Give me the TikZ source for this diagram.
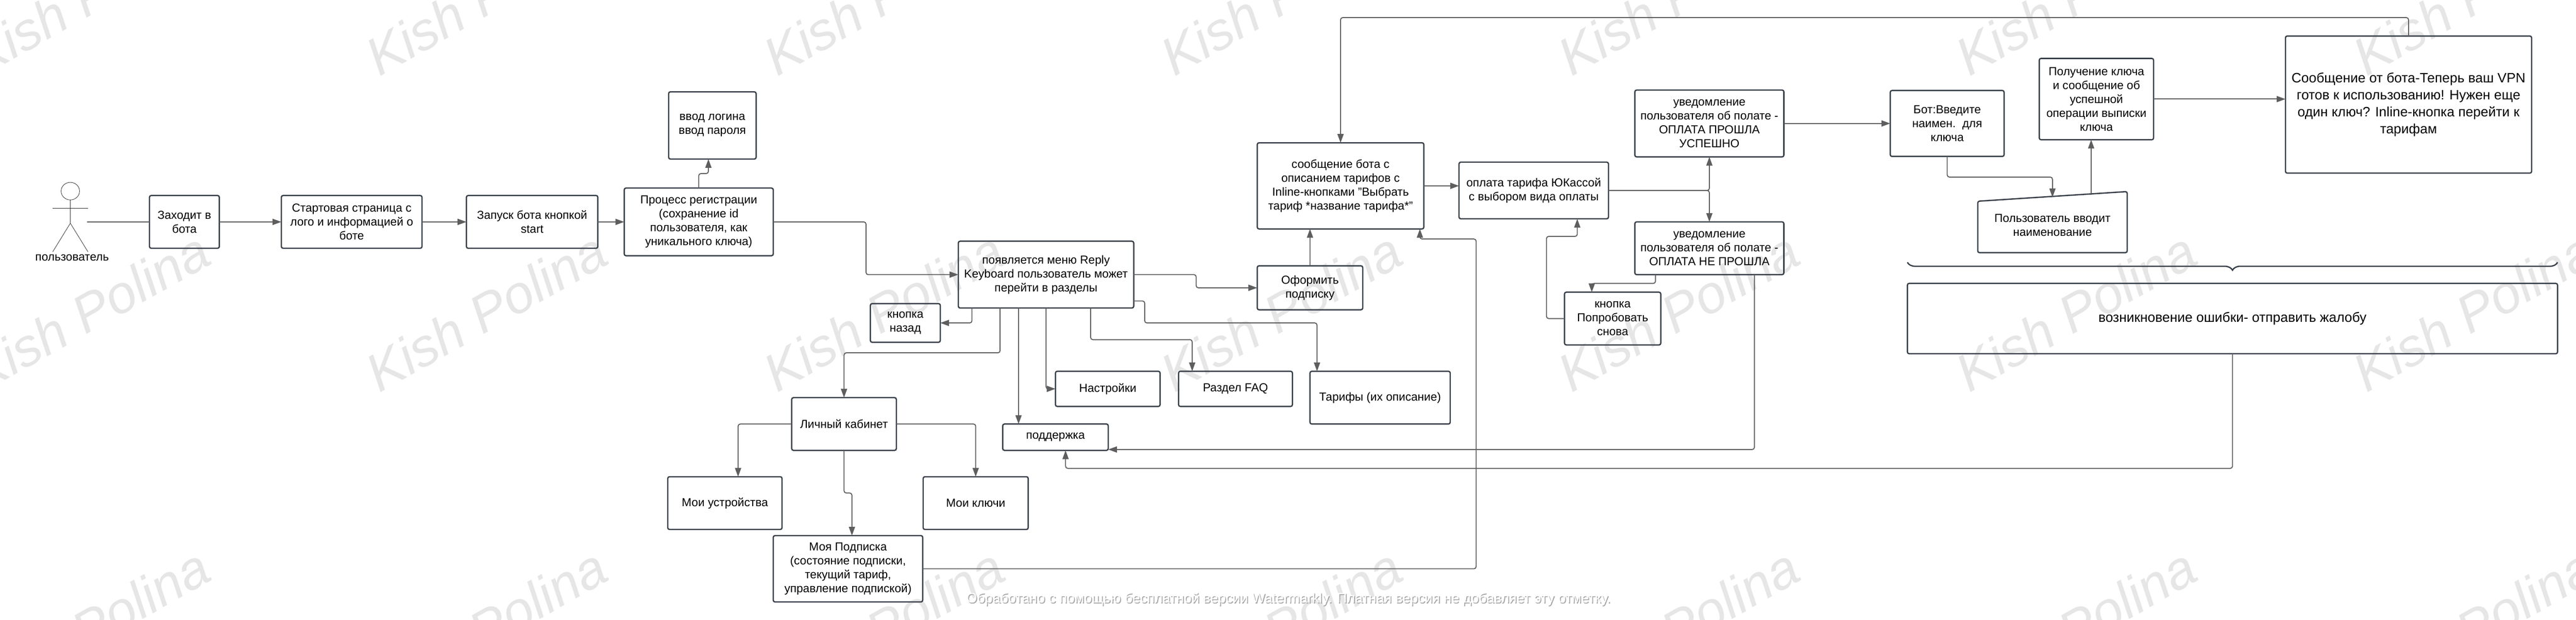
\documentclass[tikz,border=0pt]{standalone}
\usepackage{fontspec}
\setmainfont{Liberation Sans}
\usetikzlibrary{shapes.geometric, arrows.meta, calc, positioning, decorations.pathreplacing}
\definecolor{boxline}{HTML}{3A414A}
\definecolor{linkline}{HTML}{5E5E5E}
\definecolor{stampgray}{HTML}{E6E6E6}
\tikzstyle{block} = [rectangle, rounded corners=0.4mm, line width=0.3mm, inner sep=0pt, outer sep=0pt, align=center, draw=boxline, font=\fontsize{7.55}{9}\selectfont]
\tikzstyle{bigblock} = [block, font=\fontsize{8.8}{10.9}\selectfont]
\tikzstyle{link} = [line width=0.22mm, rounded corners=0.5mm, draw=linkline]
\tikzstyle{arrow} = [link, -{Triangle[length=2mm,width=1.4mm]}, color=linkline]
\tikzstyle{stick} = [line width=0.1mm, draw=black!80]
\tikzstyle{stamp} = [anchor=base west, rotate=29.4, inner sep=0pt, text=stampgray, font=\itshape\fontsize{34.4}{35}\selectfont]
\tikzstyle{note} = [inner sep=0pt, font=\fontsize{8.95}{10}\selectfont]

\begin{document}
\begin{tikzpicture}
		\useasboundingbox (0,0) rectangle (58.6,-14.11);
		% watermark
		\begin{scope}
		\clip (0,0) rectangle (58.6,-14.11);
		\node (StampA1) [stamp] at (-0.41,-1.75) {Kish Polina};
		\node (StampA2) [stamp] at (8.63,-1.75) {Kish Polina};
		\node (StampA3) [stamp] at (17.67,-1.75) {Kish Polina};
		\node (StampA4) [stamp] at (26.71,-1.75) {Kish Polina};
		\node (StampA5) [stamp] at (35.75,-1.75) {Kish Polina};
		\node (StampA6) [stamp] at (44.79,-1.75) {Kish Polina};
		\node (StampA7) [stamp] at (53.83,-1.75) {Kish Polina};
		\node (StampB1) [stamp] at (-0.41,-8.95) {Kish Polina};
		\node (StampB2) [stamp] at (8.63,-8.95) {Kish Polina};
		\node (StampB3) [stamp] at (17.67,-8.95) {Kish Polina};
		\node (StampB4) [stamp] at (26.71,-8.95) {Kish Polina};
		\node (StampB5) [stamp] at (35.75,-8.95) {Kish Polina};
		\node (StampB6) [stamp] at (44.79,-8.95) {Kish Polina};
		\node (StampB7) [stamp] at (53.83,-8.95) {Kish Polina};
		\node (StampC1) [stamp] at (-0.41,-16.15) {Kish Polina};
		\node (StampC2) [stamp] at (8.63,-16.15) {Kish Polina};
		\node (StampC3) [stamp] at (17.67,-16.15) {Kish Polina};
		\node (StampC4) [stamp] at (26.71,-16.15) {Kish Polina};
		\node (StampC5) [stamp] at (35.75,-16.15) {Kish Polina};
		\node (StampC6) [stamp] at (44.79,-16.15) {Kish Polina};
		\node (StampC7) [stamp] at (53.83,-16.15) {Kish Polina};
		\end{scope}
		
		% actor
		\draw [stick] (1.6,-4.35) ellipse (0.21 and 0.2);
		\draw [stick] (1.6,-4.55) -- (1.6,-5.08) -- (1.2,-5.73);
		\draw [stick] (1.6,-5.08) -- (2.0,-5.73);
		\draw [stick] (1.2,-4.74) -- (2.0,-4.74);
		\node (User) [font=\fontsize{7.55}{9}\selectfont, inner sep=0pt] at (1.64,-5.87) {пользователь};
		\coordinate (UserRight) at (1.98,-5.05);
		
		\node (Enter) [block, minimum width = 15.9mm, minimum height = 12mm] at (4.195,-5.05) {Заходит в\\бота};
		\node (Start) [block, minimum width = 32mm, minimum height = 12mm, right = 14.1mm of Enter] {Стартовая страница с\\лого и информацией о\\боте};
		\node (Launch) [block, minimum width = 29.9mm, minimum height = 12mm, right = 10.1mm of Start] {Запуск бота кнопкой\\start};
		\node (Register) [block, minimum width = 33.9mm, minimum height = 15.4mm, right = 6mm of Launch] {Процесс регистрации\\(сохранение id\\пользователя, как\\уникального ключа)};
		\node (Login) [block, minimum width = 19.9mm, minimum height = 15.3mm, above = 6.6mm of Register, xshift = 3.1mm] {ввод логина\\ввод пароля};
		\node (Menu) [block, minimum width = 39.9mm, minimum height = 15.2mm, right = 42.1mm of Register, yshift = -12mm] {появляется меню Reply\\Keyboard пользователь может\\перейти в разделы};
		\node (Back) [block, minimum width = 15.9mm, minimum height = 8.8mm] at (20.595,-7.35) {кнопка\\назад};
		\node (Settings) [block, minimum width = 23.8mm, minimum height = 8mm] at (25.2,-8.85) {Настройки};
		\node (Faq) [block, minimum width = 25.9mm, minimum height = 8mm, right = 4.2mm of Settings] {Раздел FAQ};
		\node (Tariffs) [block, minimum width = 31.9mm, minimum height = 12mm] at (31.395,-9.05) {Тарифы (их описание)};
		\node (Support) [block, minimum width = 24mm, minimum height = 6mm] at (24.01,-9.95) {поддержка};
		\node (Cabinet) [block, minimum width = 23.8mm, minimum height = 12mm] at (19.2,-9.65) {Личный кабинет};
		\node (Devices) [block, minimum width = 26mm, minimum height = 12mm] at (16.49,-11.45) {Мои устройства};
		\node (Keys) [block, minimum width = 23.9mm, minimum height = 12mm] at (22.195,-11.45) {Мои ключи};
		\node (MySub) [block, minimum width = 34mm, minimum height = 15.1mm, below = 19.4mm of Cabinet, xshift = 0.9mm] {Моя Подписка\\(состояние подписки,\\текущий тариф,\\управление подпиской)};
		\node (Subscribe) [block, minimum width = 24mm, minimum height = 10mm] at (29.8,-6.55) {Оформить\\подписку};
		\node (Offer) [block, minimum width = 37.9mm, minimum height = 19.6mm] at (30.495,-4.23) {сообщение бота с\\описанием тарифов с\\Inline-кнопками "Выбрать\\тариф *название тарифа*"};
		\node (Pay) [block, minimum width = 34mm, minimum height = 12.9mm, right = 8mm of Offer, yshift = -1.05mm] {оплата тарифа ЮКассой\\с выбором вида оплаты};
		\node (Success) [block, minimum width = 33.9mm, minimum height = 15.2mm] at (38.885,-2.81) {уведомление\\пользователя об полате -\\ОПЛАТА ПРОШЛА\\УСПЕШНО};
		\node (Fail) [block, minimum width = 33.9mm, minimum height = 12mm, below = 14.8mm of Success] {уведомление\\пользователя об полате -\\ОПЛАТА НЕ ПРОШЛА};
		\node (Retry) [block, minimum width = 21.9mm, minimum height = 12mm] at (36.685,-7.25) {кнопка\\Попробовать\\снова};
		\node (Ask) [block, minimum width = 25.9mm, minimum height = 15mm, right = 24.2mm of Success] {Бот:Введите\\наимен.\ \ для\\ключа};
		\node (GetKey) [block, minimum width = 26mm, minimum height = 18.5mm] at (47.69,-2.255) {Получение ключа\\и сообщение об\\успешной\\операции выписки\\ключа};
		\node (Ready) [bigblock, minimum width = 56mm, minimum height = 31.2mm] at (54.79,-2.38) {Сообщение от бота-Теперь ваш VPN\\готов к использованию! Нужен еще\\один ключ? Inline-кнопка перейти к\\тарифам};
		\node (Input) [block, draw=none, minimum width = 34mm, minimum height = 12.6mm] at (46.69,-5.12) {Пользователь вводит\\наименование};
		\draw [line width=0.3mm, draw=boxline, rounded corners=0.4mm] ($(Input.north west)+(0,-0.09)$) -- ($(Input.north east)+(0,0.13)$) -- (Input.south east) -- (Input.south west) -- cycle;
		\node (Complain) [bigblock, minimum width = 147.9mm, minimum height = 16mm] at (50.785,-7.25) {возникновение ошибки- отправить жалобу};
		\coordinate (BraceLeft) at (43.39,-5.97);
		\coordinate (BraceRight) at (58.18,-5.97);
		\draw [line width=0.3mm, draw=boxline, decorate, decoration={brace, mirror, amplitude=1.8mm}] (BraceLeft) -- (BraceRight);
		
		\draw [link] (UserRight) -- (Enter);
		\draw [arrow] (Enter) -- (Start);
		\draw [arrow] (Start) -- (Launch);
		\draw [arrow] (Launch) -- (Register);
		\draw [arrow] (Register.north) -- ++(0,0.33) -| ([xshift=-0.9mm]Login.south);
		\draw [arrow] (Register.east) -- ++(2.11,0) |- (Menu.west);
		\draw [arrow] ([xshift=-16.85mm]Menu.south) |- (Back.east);
		\draw [arrow] ([xshift=-10.45mm]Menu.south) -- ++(0,-1.02) -| (Cabinet.north);
		\draw [arrow] ([xshift=-6.25mm]Menu.south) -- ([xshift=-8.4mm]Support.north);
		\draw [arrow] (Menu.south) |- (Settings.west);
		\draw [arrow] ([xshift=10.15mm]Menu.south) -- ++(0,-0.72) -| ([xshift=-9.85mm]Faq.north);
		\draw [arrow] ([yshift=-6mm]Menu.east) -- ++(0.25,0) -- ++(0,-0.5) -| ([xshift=-14.35mm]Tariffs.north);
		\draw [arrow] (Menu.east) -- ++(1.42,0) |- (Subscribe.west);
		\draw [arrow] (Subscribe.north) -- ([xshift=-6.95mm]Offer.south);
		\draw [arrow] (Offer.east) -- (Offer.east -| Pay.west);
		\draw [arrow] (Pay.east) -| (Success.south);
		\draw [arrow] (Pay.east) -| (Fail.north);
		\draw [arrow] (Success.east) -- (Ask.west);
		\draw [arrow] ([xshift=-12.25mm]Fail.south) -- ++(0,-0.2) -| ([xshift=-4.75mm]Retry.north);
		\draw [arrow] (Retry.west) -| (35.18,-5.38) -| ([xshift=9.9mm]Pay.south);
		\draw [arrow] ([xshift=10.25mm]Fail.south) |- ([yshift=-2.8mm]Support.east);
		\draw [arrow] (Complain.south) -- ++(0,-2.61) -| ([xshift=2.3mm]Support.south);
		\draw [arrow] (Ask.south) -- ++(0,-0.47) -| (Input.north);
		\draw [arrow] ([xshift=8.8mm,yshift=0.8mm]Input.north) -- ([xshift=-1.2mm]GetKey.south);
		\draw [arrow] (GetKey.east) -- (GetKey.east -| Ready.west);
		\draw [arrow] (Ready.north) -- ++(0,0.42) -| (Offer.north);
		\draw [arrow] (MySub.east) -| (33.58,-5.44) -| ([xshift=18.05mm]Offer.south);
		\draw [arrow] (Cabinet.west) -| ([xshift=3mm]Devices.north);
		\draw [arrow] (Cabinet.east) -| (Keys.north);
		\draw [arrow] (Cabinet.south) -- ++(0,-0.97) -| ([xshift=0.9mm]MySub.north);
		
		% bottom line of the watermark
		\node (NoteShade) [note, text=black!35] at (29.33,-13.66) {Обработано с помощью бесплатной версии Watermarkly. Платная версия не добавляет эту отметку.};
		\node (Note) [note, text=white] at (29.31,-13.63) {Обработано с помощью бесплатной версии Watermarkly. Платная версия не добавляет эту отметку.};
\end{tikzpicture}
\end{document}
